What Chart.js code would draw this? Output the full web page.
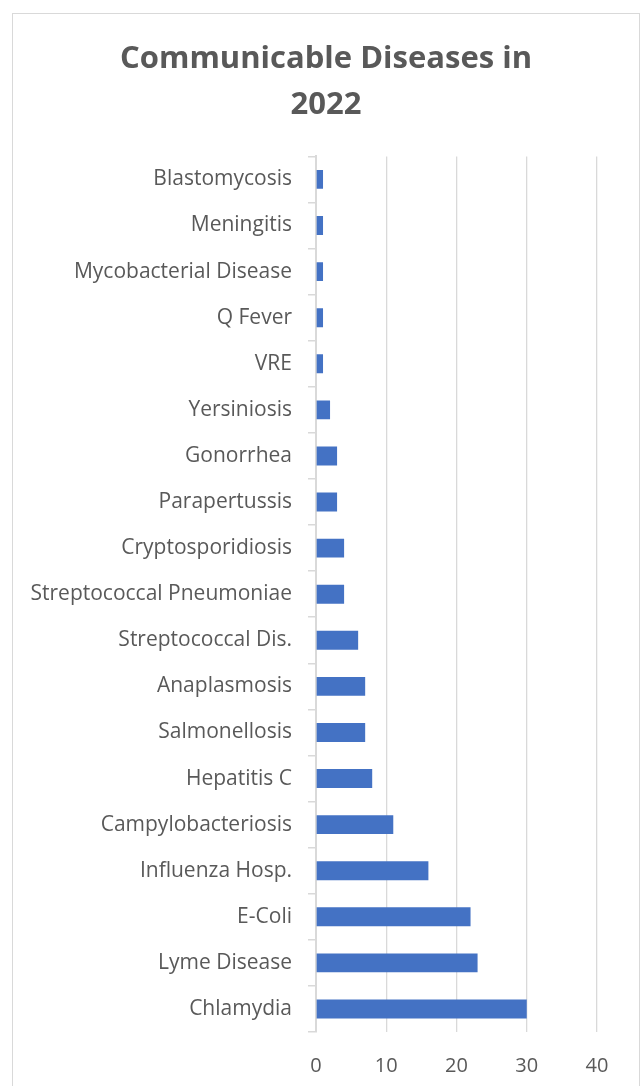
<!DOCTYPE html>
<html>
<head>
<meta charset="utf-8">
<script src="https://cdn.jsdelivr.net/npm/chart.js@4"></script>
<style>
  body { margin: 0; background: #fff; }
  #wrap {
    position: absolute;
    left: 12px;
    top: 13px;
    width: 626px;
    height: 1110px;
    border: 1px solid #d9d9d9;
    overflow: hidden;
  }
</style>
</head>
<body>
<div id="wrap">
  <canvas id="chart" width="626" height="1097"></canvas>
</div>
<script>
// Data (top to bottom as shown)
const diseases = [
    'Blastomycosis', 'Meningitis', 'Mycobacterial Disease', 'Q Fever', 'VRE',
    'Yersiniosis', 'Gonorrhea', 'Parapertussis', 'Cryptosporidiosis',
    'Streptococcal Pneumoniae', 'Streptococcal Dis.', 'Anaplasmosis',
    'Salmonellosis', 'Hepatitis C', 'Campylobacteriosis', 'Influenza Hosp.',
    'E-Coli', 'Lyme Disease', 'Chlamydia'
];
const cases = [1, 1, 1, 1, 1, 2, 3, 3, 4, 4, 6, 7, 7, 8, 11, 16, 22, 23, 30];
const titleLines = ['Communicable Diseases in', '2022'];
const xMax = 40;
const xStep = 10;

const gray = '#595959';
const gridGray = '#d9d9d9';
const fontFamily = '"Open Sans", Lato, sans-serif';

const ctx = document.getElementById('chart').getContext('2d');
new Chart(ctx, {
    type: 'bar',
    data: {
        labels: diseases,
        datasets: [{
            data: cases,
            backgroundColor: '#4472c4',
            borderWidth: 0,
            categoryPercentage: 1,
            barPercentage: 0.41
        }]
    },
    options: {
        indexAxis: 'y',
        responsive: false,
        animation: false,
        layout: { padding: { left: 0, right: 0, top: 0, bottom: 11 } },
        plugins: {
            legend: { display: false },
            tooltip: { enabled: false },
            title: {
                display: true,
                text: titleLines,
                color: gray,
                font: { family: fontFamily, size: 31, weight: 'bold', lineHeight: 1.49 },
                padding: { top: 22, bottom: 28 }
            }
        },
        scales: {
            x: {
                min: 0,
                max: xMax,
                ticks: {
                    stepSize: xStep,
                    color: gray,
                    padding: 22,
                    font: { family: fontFamily, size: 20 }
                },
                grid: { color: gridGray, drawTicks: false, lineWidth: 1.3 },
                border: { display: false }
            },
            y: {
                ticks: {
                    color: gray,
                    padding: 16,
                    font: { family: fontFamily, size: 21 }
                },
                grid: {
                    offset: true,
                    drawOnChartArea: false,
                    drawTicks: true,
                    tickLength: 8,
                    color: gridGray,
                    lineWidth: 1.5
                },
                border: { display: true, color: gridGray, width: 2 },
                afterFit: (scale) => { scale.width = 303; }
            },
            // empty right-hand axis, only keeps blank space right of the plot
            yRight: {
                axis: 'y',
                type: 'category',
                position: 'right',
                ticks: { display: false },
                grid: { display: false },
                border: { display: false },
                afterFit: (scale) => { scale.width = 42; }
            }
        }
    }
});
</script>
</body>
</html>
